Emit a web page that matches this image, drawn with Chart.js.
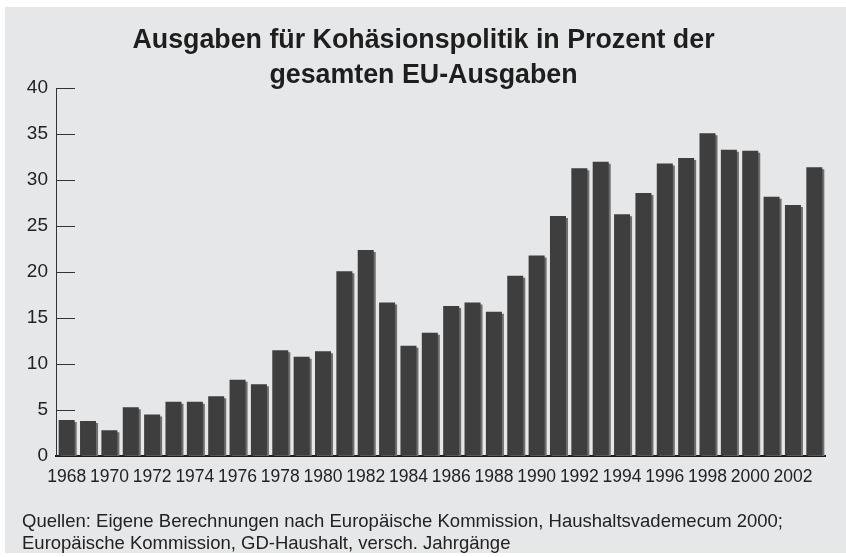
<!DOCTYPE html>
<html>
<head>
<meta charset="utf-8">
<script src="https://cdn.jsdelivr.net/npm/chart.js@4.4.1/dist/chart.umd.min.js"></script>
<style>
  html, body { margin: 0; padding: 0; background: #ffffff; }
  #wrap { width: 846px; height: 557px; }
</style>
</head>
<body>
<div id="wrap"><canvas id="c" width="846" height="557"></canvas></div>
<script>
// ---- data ----
const years = [1968,1969,1970,1971,1972,1973,1974,1975,1976,1977,1978,1979,1980,1981,1982,1983,1984,1985,
               1986,1987,1988,1989,1990,1991,1992,1993,1994,1995,1996,1997,1998,1999,2000,2001,2002,2003];
const shares = [3.9,3.8,2.8,5.3,4.5,5.9,5.9,6.5,8.3,7.8,11.5,10.8,11.4,20.1,22.4,16.7,12.0,13.4,
                16.3,16.7,15.7,19.6,21.8,26.1,31.3,32.0,26.3,28.6,31.8,32.4,35.1,33.3,33.2,28.2,27.3,31.4];
const yTicks = [0,5,10,15,20,25,30,35,40];
const titleLines = ['Ausgaben für Kohäsionspolitik in Prozent der', 'gesamten EU-Ausgaben'];
const sourceLines = ['Quellen: Eigene Berechnungen nach Europäische Kommission, Haushaltsvademecum 2000;',
                     'Europäische Kommission, GD-Haushalt, versch. Jahrgänge'];

const FONT = '"Liberation Sans", Arial, Helvetica, sans-serif';

const bgPlugin = {
  id: 'panelBg',
  beforeDraw(chart) {
    const ctx = chart.ctx;
    ctx.save();
    ctx.fillStyle = '#ffffff';
    ctx.fillRect(0, 0, chart.width, chart.height);
    ctx.fillStyle = '#e6e7e9';
    ctx.fillRect(5, 7, chart.width - 5, chart.height - 11);
    ctx.restore();
  }
};
const shadowPlugin = {
  id: 'barShadow',
  beforeDatasetDraw(chart) {
    const ctx = chart.ctx;
    ctx.save();
    ctx.shadowColor = '#6f6f6f';
    ctx.shadowOffsetX = 2;
    ctx.shadowOffsetY = 2;
    ctx.shadowBlur = 0;
  },
  afterDatasetDraw(chart) {
    chart.ctx.restore();
  }
};

new Chart(document.getElementById('c'), {
  type: 'bar',
  data: {
    labels: years.map(String),
    datasets: [{
      data: shares,
      backgroundColor: '#3e3e3e',
      borderWidth: 0,
      barPercentage: 0.75,
      categoryPercentage: 1.0
    }]
  },
  plugins: [bgPlugin, shadowPlugin],
  options: {
    responsive: false,
    animation: false,
    devicePixelRatio: 1,
    layout: { padding: { left: 22, right: 21, top: 0, bottom: 0 } },
    plugins: {
      legend: { display: false },
      tooltip: { enabled: false },
      title: {
        display: true,
        text: titleLines,
        color: '#1e1e1e',
        font: { family: FONT, size: 26.8, weight: 'bold', lineHeight: 1.31 },
        padding: { top: 23, bottom: -5 }
      },
      subtitle: {
        display: true,
        position: 'bottom',
        align: 'start',
        text: sourceLines,
        color: '#222222',
        font: { family: FONT, size: 18.5, lineHeight: 1.19 },
        padding: { top: 11.5, bottom: 2.5 }
      }
    },
    scales: {
      x: {
        z: 1,
        grid: { display: false, drawTicks: false },
        border: { display: true, color: '#1a1a1a', width: 2 },
        ticks: {
          autoSkip: false,
          maxRotation: 0,
          padding: 11,
          color: '#222222',
          font: { family: FONT, size: 17.5, lineHeight: 1.2 },
          callback: function(value, index) {
            const y = years[index];
            return y % 2 === 0 ? String(y) : '';
          }
        }
      },
      y: {
        min: 0,
        max: 40,
        afterBuildTicks: (scale) => { scale.ticks = yTicks.map(v => ({ value: v })); },
        afterFit: (scale) => { scale.width = 34; },
        grid: { display: true, drawOnChartArea: false, drawTicks: true, tickLength: -19, color: '#333333', lineWidth: 1 },
        border: { display: true, color: '#333333', width: 1 },
        ticks: {
          padding: 27,
          color: '#222222',
          font: { family: FONT, size: 19 }
        }
      }
    }
  }
});
</script>
</body>
</html>
